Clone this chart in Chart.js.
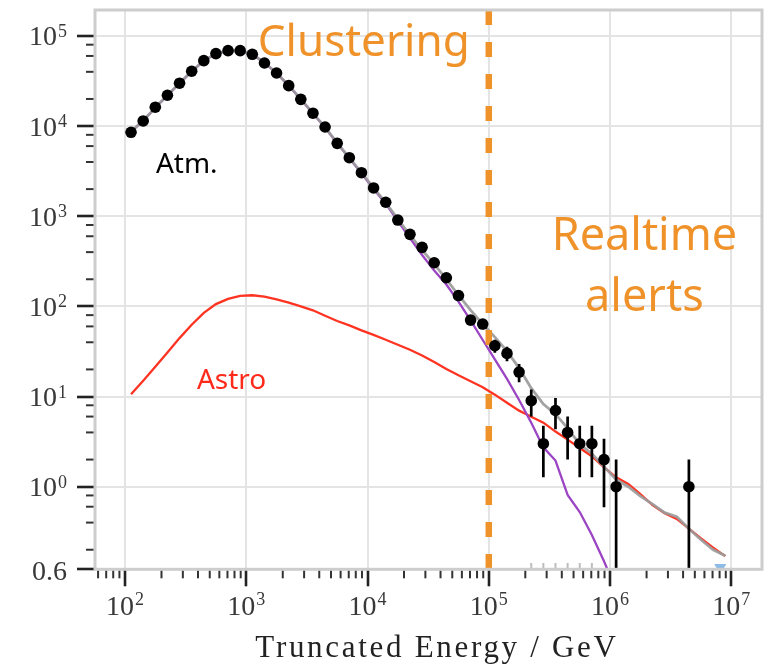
<!DOCTYPE html>
<html>
<head>
<meta charset="utf-8">
<script src="https://cdn.jsdelivr.net/npm/chart.js@4.4.0/dist/chart.umd.min.js"></script>
<style>
  html, body { margin: 0; padding: 0; background: #fff; }
  canvas { display: block; }
</style>
</head>
<body>
<canvas id="energyChart" width="769" height="672"></canvas>
<script>
// bin centres (GeV), 0.1 decade bins
const binCenters = [
  112.2, 141.3, 177.8, 223.9, 281.8, 354.8, 446.7, 562.3, 707.9, 891.3,
  1122, 1413, 1778, 2239, 2818, 3548, 4467, 5623, 7079, 8913,
  11220, 14130, 17780, 22390, 28180, 35480, 44670, 56230, 70790, 89130,
  112200, 141300, 177800, 223900, 281800, 354800, 446700, 562300, 707900, 891300,
  1122000, 1413000, 1778000, 2239000, 2818000, 3548000, 4467000, 5623000, 7079000, 8913000
];

// observed events
const dataCounts = [
  8530, 11400, 16200, 22000, 29900, 40600, 53200, 63700, 68700, 68700,
  62600, 50100, 38800, 28100, 19800, 13900, 9770, 6440, 4460, 3040,
  2060, 1430, 908, 630, 452, 305, 208, 132, 70.5, 63.7,
  36.6, 30.1, 18.7, 9, 3, 7, 4, 3, 3, 2,
  1, null, null, null, null, null, 1, null, null, null
];
const dataErr = [
  0, 0, 0, 0, 0, 0, 0, 0, 0, 0,
  0, 0, 0, 0, 0, 0, 0, 0, 0, 0,
  0, 0, 0, 0, 0, 0, 0, 0, 8.4, 8.0,
  6.0, 5.5, 4.3, 3.0, 1.73, 2.65, 2.0, 1.73, 1.73, 1.41,
  1.0, 0, 0, 0, 0, 0, 1.0, 0, 0, 0
];

// total expectation (grey)
const totalModel = [
  8700, 11500, 16000, 22000, 29800, 40500, 53000, 63500, 68800, 68500,
  62500, 50500, 38800, 28200, 19900, 13900, 9700, 6500, 4450, 3050,
  2070, 1420, 931, 618, 422, 294, 201, 133, 91, 63.7,
  45.6, 31.9, 20.7, 12.4, 8.24, 6.38, 4.46, 2.96, 2.32, 1.67,
  1.20, 1.0, 0.785, 0.64, 0.515, 0.465, 0.342, 0.258, 0.2, 0.171
];

// atmospheric (purple)
const atmModel = [
  8680, 11480, 15980, 21980, 29770, 40460, 52950, 63430, 68700, 68400,
  62380, 50380, 38700, 28100, 19810, 13820, 9630, 6440, 4400, 3000,
  2000, 1380, 885, 574, 372, 250, 175, 113, 69.8, 42.4,
  25.8, 15.7, 9.16, 5.12, 2.73, 1.95, 0.81, 0.524, 0.291, 0.149,
  0.0714, null, null, null, null, null, null, null, null, null
];

// astrophysical (red)
const astroModel = [
  10.6, 15.0, 21.4, 30.8, 44.5, 62.5, 84.9, 106, 121, 131,
  133, 128.5, 119.6, 110, 100, 90.5, 78.9, 68.9, 61.5, 54.2,
  48.4, 42.7, 37.6, 33.0, 28.6, 24.1, 20.2, 17.2, 14.8, 12.7,
  10.5, 8.55, 6.98, 5.98, 5.14, 4.09, 3.33, 2.69, 2.18, 1.64,
  1.27, 1.07, 0.83, 0.625, 0.508, 0.44, 0.343, 0.267, 0.211, 0.17
];

// small grey marks at the bottom edge and the blue marker
const stubBins = [223900, 281800, 354800, 446700, 562300, 707900];
const stubLevel = 0.132;
const blueMarker = [{ x: 8100000, y: 0.127 }];

const splitEnergy = 1e5;

const xMin = 56.6, xMax = 1.79e7;
const yMin = 0.1213, yMax = 1.94e5;
const xTickValues = [1e2, 1e3, 1e4, 1e5, 1e6, 1e7];
const xTickLabels = [['10', '2'], ['10', '3'], ['10', '4'], ['10', '5'], ['10', '6'], ['10', '7']];
const yTickValues = [yMin, 1, 10, 100, 1e3, 1e4, 1e5];
const yTickLabels = [['0.6', ''], ['10', '0'], ['10', '1'], ['10', '2'], ['10', '3'], ['10', '4'], ['10', '5']];
const xMinorSubs = [2, 3, 4, 5, 6, 7, 8, 9];
const yMinorSubs = [2, 4, 6, 8];

const notes = [
  { text: 'Clustering', x: 9310, y: 60000, color: '#f0922a', size: 44, align: 'center' },
  { text: 'Realtime', x: 1.92e6, y: 423, color: '#f0922a', size: 45, align: 'center' },
  { text: 'alerts', x: 1.92e6, y: 89, color: '#f0922a', size: 45, align: 'center' },
  { text: 'Atm.', x: 180, y: 3020, color: '#000', size: 28, align: 'left' },
  { text: 'Astro', x: 392, y: 12.1, color: '#ff2a1a', size: 28, align: 'left' }
];
const xTitle = 'Truncated Energy / GeV';

function toPoints(ys) {
  const pts = [];
  ys.forEach((v, i) => { if (v != null) pts.push({ x: binCenters[i], y: v }); });
  return pts;
}

const serif = '"Liberation Serif", "DejaVu Serif", serif';
const handFont = '"Comic Sans MS", "Noto Sans", sans-serif';

const decor = {
  id: 'decor',
  beforeDatasetDraw(chart, args) {
    if (args.index !== 0) return;
    const { ctx, chartArea } = chart;
    const x = chart.scales.x, y = chart.scales.y;
    ctx.save();
    ctx.beginPath();
    ctx.rect(chartArea.left, chartArea.top, chartArea.right - chartArea.left, chartArea.bottom - chartArea.top);
    ctx.clip();
    ctx.strokeStyle = '#000';
    ctx.lineWidth = 2.7;
    dataErr.forEach((e, i) => {
      if (!e || dataCounts[i] == null) return;
      const px = x.getPixelForValue(binCenters[i]);
      const lo = dataCounts[i] - e;
      const yTop = y.getPixelForValue(dataCounts[i] + e);
      const yBot = lo > yMin ? y.getPixelForValue(lo) : chartArea.bottom;
      ctx.beginPath();
      ctx.moveTo(px, yTop);
      ctx.lineTo(px, yBot);
      ctx.stroke();
    });
    ctx.restore();
  },
  afterDatasetsDraw(chart) {
    const { ctx } = chart;
    const x = chart.scales.x, y = chart.scales.y;
    ctx.save();
    ctx.textBaseline = 'alphabetic';
    notes.forEach(n => {
      ctx.font = n.size + 'px ' + handFont;
      ctx.fillStyle = n.color;
      ctx.textAlign = n.align;
      ctx.fillText(n.text, x.getPixelForValue(n.x), y.getPixelForValue(n.y));
    });
    ctx.restore();
  },
  afterDraw(chart) {
    const { ctx, chartArea } = chart;
    const x = chart.scales.x, y = chart.scales.y;
    ctx.save();
    // frame
    ctx.strokeStyle = '#cdcdcd';
    ctx.lineWidth = 3;
    ctx.strokeRect(chartArea.left, chartArea.top, chartArea.right - chartArea.left, chartArea.bottom - chartArea.top);

    // minor ticks
    ctx.strokeStyle = '#333';
    ctx.lineWidth = 2;
    for (let d = 1; d <= 7; d++) {
      xMinorSubs.forEach(s => {
        const v = s * Math.pow(10, d);
        if (v < xMin || v > xMax) return;
        const px = x.getPixelForValue(v);
        ctx.beginPath();
        ctx.moveTo(px, chartArea.bottom + 1.5);
        ctx.lineTo(px, chartArea.bottom + 9);
        ctx.stroke();
      });
    }
    for (let d = -1; d <= 5; d++) {
      yMinorSubs.forEach(s => {
        const v = s * Math.pow(10, d);
        if (v < yMin || v > yMax) return;
        const py = y.getPixelForValue(v);
        ctx.beginPath();
        ctx.moveTo(chartArea.left - 9, py);
        ctx.lineTo(chartArea.left - 1.5, py);
        ctx.stroke();
      });
    }

    // tick labels
    ctx.fillStyle = '#383838';
    ctx.textBaseline = 'alphabetic';
    yTickValues.forEach((v, i) => {
      const py = y.getPixelForValue(v);
      const [base, exp] = yTickLabels[i];
      const right = chartArea.left - 28;
      ctx.textAlign = 'right';
      let ew = 0;
      if (exp) {
        ctx.font = '18px ' + serif;
        ew = ctx.measureText(exp).width + 1;
        ctx.fillText(exp, right, py + 1);
      }
      ctx.font = '28px ' + serif;
      ctx.fillText(base, right - ew, py + (exp ? 9.5 : 11));
    });
    xTickValues.forEach((v, i) => {
      const px = x.getPixelForValue(v);
      const [base, exp] = xTickLabels[i];
      ctx.font = '28px ' + serif;
      const bw = ctx.measureText(base).width;
      ctx.font = '18px ' + serif;
      const ew = ctx.measureText(exp).width + 1;
      const start = px - (bw + ew) / 2;
      ctx.textAlign = 'left';
      ctx.font = '28px ' + serif;
      ctx.fillText(base, start, chartArea.bottom + 46);
      ctx.font = '18px ' + serif;
      ctx.fillText(exp, start + bw + 1, chartArea.bottom + 36);
    });

    // axis title
    ctx.fillStyle = '#222';
    ctx.font = '31px ' + serif;
    ctx.letterSpacing = '2.7px';
    ctx.textAlign = 'center';
    ctx.fillText(xTitle, 437, chartArea.bottom + 88);
    ctx.restore();
  }
};

const gridColor = '#e4e4e4';

new Chart(document.getElementById('energyChart').getContext('2d'), {
  type: 'scatter',
  data: {
    datasets: [
      {
        label: 'Data',
        data: toPoints(dataCounts),
        backgroundColor: '#000',
        borderWidth: 0,
        pointRadius: 5.8,
        order: 0
      },
      {
        label: 'stubs',
        data: stubBins.map(v => ({ x: v, y: stubLevel })),
        pointStyle: 'line',
        rotation: 90,
        pointRadius: 3,
        borderColor: '#bdbdbd',
        borderWidth: 2,
        order: 1
      },
      {
        label: 'split',
        data: [{ x: splitEnergy, y: yMax }, { x: splitEnergy, y: yMin }],
        showLine: true,
        borderColor: '#f0922a',
        borderWidth: 6.5,
        borderDash: [15, 17],
        borderCapStyle: 'butt',
        pointRadius: 0,
        order: 2
      },
      {
        label: 'Total',
        data: toPoints(totalModel),
        showLine: true,
        borderColor: 'rgba(155,155,155,0.92)',
        borderWidth: 2.8,
        pointRadius: 0,
        order: 3
      },
      {
        label: 'Atm.',
        data: toPoints(atmModel),
        showLine: true,
        borderColor: '#9c45c4',
        borderWidth: 2.3,
        pointRadius: 0,
        clip: 0,
        order: 4
      },
      {
        label: 'Astro',
        data: toPoints(astroModel),
        showLine: true,
        borderColor: '#ff3322',
        borderWidth: 2.3,
        pointRadius: 0,
        order: 5
      },
      {
        label: 'limit',
        data: blueMarker,
        pointStyle: 'triangle',
        rotation: 180,
        pointRadius: 7,
        backgroundColor: 'rgba(120,175,225,0.85)',
        borderWidth: 0,
        clip: 0,
        order: 6
      }
    ]
  },
  options: {
    responsive: false,
    animation: false,
    events: [],
    layout: { padding: { top: 10, right: 6.3, left: 0, bottom: 0 } },
    plugins: {
      legend: { display: false },
      tooltip: { enabled: false }
    },
    scales: {
      x: {
        type: 'logarithmic',
        min: xMin,
        max: xMax,
        afterBuildTicks: s => { s.ticks = xTickValues.map(v => ({ value: v })); },
        afterFit: s => { s.height = 102.7; },
        ticks: { display: false },
        border: { display: false },
        grid: { color: gridColor, lineWidth: 2, tickColor: '#222', tickWidth: 2.6, tickLength: 17 }
      },
      y: {
        type: 'logarithmic',
        min: yMin,
        max: yMax,
        afterBuildTicks: s => { s.ticks = yTickValues.map(v => ({ value: v })); },
        afterFit: s => { s.width = 95; },
        ticks: { display: false },
        border: { display: false },
        grid: {
          color: c => (c.tick && c.tick.value < 0.5) ? 'rgba(0,0,0,0)' : gridColor,
          lineWidth: 2,
          tickColor: '#222',
          tickWidth: 2.6,
          tickLength: 18
        }
      }
    }
  },
  plugins: [decor]
});
</script>
</body>
</html>
